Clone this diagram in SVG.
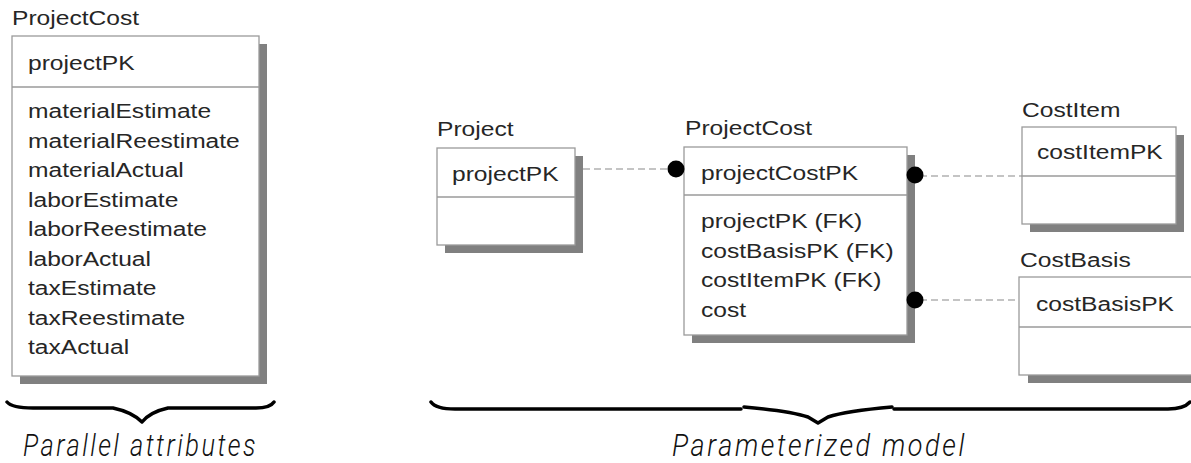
<svg xmlns="http://www.w3.org/2000/svg" width="1191" height="463" viewBox="0 0 1191 463">
  <style>
    .box { fill: #ffffff; stroke: #9a9a9a; stroke-width: 1.3; }
    .shadow { fill: #808080; }
    .div { stroke: #9a9a9a; stroke-width: 1.3; }
    .t { font-family: "Liberation Sans", Arial, sans-serif; font-size: 20px; fill: #262626; }
    .rel { stroke: #8a8a8a; stroke-width: 1.2; stroke-dasharray: 7 4; fill: none; }
    .dot { fill: #000000; }
    .brace { fill: none; stroke: #000000; stroke-width: 3.5; stroke-linejoin: round; stroke-linecap: round; }
    .cap { font-family: Roboto, "Liberation Sans", sans-serif; font-style: italic; font-weight: 300; font-size: 31px; fill: #111111; letter-spacing: 3px; }
  </style>

  <!-- flat entity with repeated attribute columns -->
  <g id="flatProjectCost">
    <text class="t" transform="translate(12 24.5) scale(1.23 1)">ProjectCost</text>
    <rect class="shadow" x="20" y="44" width="247" height="340"/>
    <rect class="box" x="12" y="36" width="247" height="340"/>
    <line class="div" x1="12" y1="87" x2="259" y2="87"/>
    <text class="t" transform="translate(28 69.5) scale(1.23 1)">projectPK</text>
    <text class="t" transform="translate(28 118) scale(1.23 1)">materialEstimate</text>
    <text class="t" transform="translate(28 147.5) scale(1.23 1)">materialReestimate</text>
    <text class="t" transform="translate(28 177) scale(1.23 1)">materialActual</text>
    <text class="t" transform="translate(28 206.5) scale(1.23 1)">laborEstimate</text>
    <text class="t" transform="translate(28 236) scale(1.23 1)">laborReestimate</text>
    <text class="t" transform="translate(28 265.5) scale(1.23 1)">laborActual</text>
    <text class="t" transform="translate(28 295) scale(1.23 1)">taxEstimate</text>
    <text class="t" transform="translate(28 324.5) scale(1.23 1)">taxReestimate</text>
    <text class="t" transform="translate(28 354) scale(1.23 1)">taxActual</text>
  </g>

  <g id="project">
    <text class="t" transform="translate(437 136) scale(1.23 1)">Project</text>
    <rect class="shadow" x="445" y="156" width="138" height="97"/>
    <rect class="box" x="437" y="148" width="138" height="97"/>
    <line class="div" x1="437" y1="197" x2="575" y2="197"/>
    <text class="t" transform="translate(452 180.5) scale(1.23 1)">projectPK</text>
  </g>

  <g id="projectCost">
    <text class="t" transform="translate(685 135) scale(1.23 1)">ProjectCost</text>
    <rect class="shadow" x="692" y="155" width="223" height="188"/>
    <rect class="box" x="684" y="147" width="223" height="188"/>
    <line class="div" x1="684" y1="195" x2="907" y2="195"/>
    <text class="t" transform="translate(701 179.5) scale(1.23 1)">projectCostPK</text>
    <text class="t" transform="translate(701 228) scale(1.23 1)">projectPK (FK)</text>
    <text class="t" transform="translate(701 257.5) scale(1.23 1)">costBasisPK (FK)</text>
    <text class="t" transform="translate(701 287) scale(1.23 1)">costItemPK (FK)</text>
    <text class="t" transform="translate(701 316.5) scale(1.23 1)">cost</text>
  </g>

  <g id="costItem">
    <text class="t" transform="translate(1022 117) scale(1.23 1)">CostItem</text>
    <rect class="shadow" x="1030" y="135" width="154" height="97"/>
    <rect class="box" x="1022" y="127" width="154" height="97"/>
    <line class="div" x1="1022" y1="176" x2="1176" y2="176"/>
    <text class="t" transform="translate(1037 159) scale(1.23 1)">costItemPK</text>
  </g>

  <g id="costBasis">
    <text class="t" transform="translate(1020 267) scale(1.23 1)">CostBasis</text>
    <rect class="shadow" x="1028" y="285" width="190" height="98"/>
    <rect class="box" x="1019" y="277" width="190" height="98"/>
    <line class="div" x1="1019" y1="327" x2="1209" y2="327"/>
    <text class="t" transform="translate(1036 310.5) scale(1.23 1)">costBasisPK</text>
  </g>

  <!-- relationships: dashed line, filled dot at the child end -->
  <g id="connectors">
    <line class="rel" x1="583" y1="169" x2="670" y2="169"/>
    <circle class="dot" cx="676" cy="169" r="8.5"/>
    <line class="rel" x1="920" y1="176" x2="1022" y2="176"/>
    <circle class="dot" cx="915" cy="175" r="8.5"/>
    <line class="rel" x1="920" y1="300" x2="1019" y2="300"/>
    <circle class="dot" cx="915" cy="300" r="8.5"/>
  </g>

  <!-- grouping braces and captions -->
  <g id="braces">
    <path class="brace" d="M7,402 Q12,408 33,408 L113,408 Q132,412 142,422 Q150,412 168,408 L256,408 Q270,408 274,402"/>
    <path class="brace" d="M431,402 Q436,409 455,409 L741,409"/>
    <path class="brace" d="M744,407 Q790,411 808,417 L818,423 L828,417 Q846,411 892,407"/>
    <path class="brace" d="M894,409 L1168,409 Q1184,409 1190,402"/>
    <text class="cap" x="23" y="456" textLength="235" lengthAdjust="spacingAndGlyphs">Parallel attributes</text>
    <text class="cap" x="672" y="456" textLength="295" lengthAdjust="spacingAndGlyphs">Parameterized model</text>
  </g>
</svg>
